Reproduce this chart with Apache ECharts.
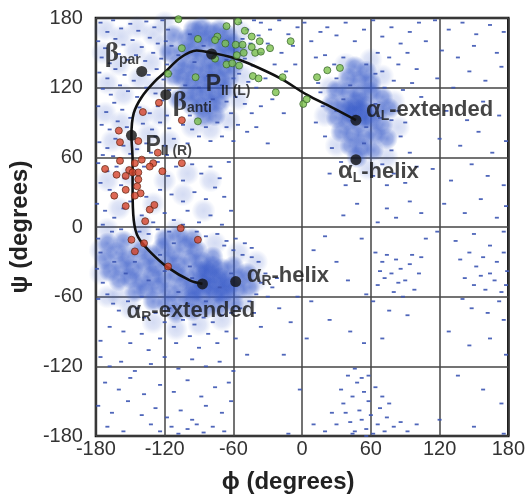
<!DOCTYPE html>
<html>
<head>
<meta charset="utf-8">
<script src="https://cdn.jsdelivr.net/npm/echarts@6/dist/echarts.min.js"></script>
<style>html,body{margin:0;padding:0;background:#fff}#c{width:528px;height:504px}</style>
</head>
<body>
<div id="c"></div>
<script>
// ---- tick labels ----
const xTicks = [-180, -120, -60, 0, 60, 120, 180];
const yTicks = [-180, -120, -60, 0, 60, 120, 180];

// ---- dense blue cores (phi, psi) ----
const coreBeta = [[-95,170],[-88,172],[-80,168],[-72,170],[-65,165],[-100,162],[-92,160],[-84,161],[-76,158],[-68,157],[-60,158],
[-104,152],[-96,150],[-88,148],[-80,144],[-72,147],[-64,149],[-56,152],[-108,140],[-100,138],[-92,137],[-84,134],[-76,136],[-68,138],[-60,139],
[-104,128],[-96,126],[-88,124],[-80,126],[-72,127],[-64,128],[-100,116],[-92,114],[-84,115],[-76,116],[-68,118],
[-96,105],[-88,103],[-80,106],[-72,107],[-112,165],[-116,150],[-112,130],[-108,110],[-86,95],[-76,96]];
const coreAlphaR = [[-172,-28],[-162,-22],[-152,-26],[-142,-20],[-132,-24],[-122,-18],[-112,-22],[-102,-16],[-92,-20],
[-168,-38],[-158,-34],[-148,-36],[-138,-32],[-128,-34],[-118,-30],[-108,-32],[-98,-28],[-88,-30],[-78,-26],
[-160,-46],[-150,-44],[-140,-46],[-130,-42],[-120,-44],[-110,-40],[-100,-42],[-90,-38],[-80,-40],[-70,-36],[-60,-34],
[-146,-56],[-136,-54],[-126,-52],[-116,-56],[-106,-50],[-96,-52],[-86,-50],[-76,-48],[-66,-46],[-56,-44],[-48,-40],
[-130,-64],[-118,-66],[-106,-62],[-96,-62],[-86,-60],[-76,-58],[-66,-56],[-56,-54],[-46,-52],
[-110,-74],[-96,-72],[-84,-70],[-72,-68],[-60,-66],[-120,-10],[-108,-8],[-96,-10],[-156,-12],[-170,-14],
[-88,-46],[-80,-52],[-72,-44],[-64,-50],[-84,-38],[-94,-56],[-70,-58],[-78,-34]];
const coreAlphaL = [[40,128],[50,126],[60,124],[30,118],[40,116],[50,114],[60,116],[70,112],[26,106],[36,104],[46,102],[56,104],[66,100],[76,102],
[30,94],[40,92],[50,90],[60,92],[70,88],[34,82],[44,80],[54,78],[64,80],[74,76],[42,70],[52,68],[62,66],[48,60],[56,134],[46,138],
[44,96],[52,100],[48,108],[56,94],[40,102]];

// ---- lighter halos around the cores (phi, psi) ----
const haloBeta = [[-172,170],[-158,164],[-144,172],[-130,166],[-120,176],[-174,150],[-160,140],[-146,152],[-132,142],[-120,156],[-170,124],
[-156,114],[-142,128],[-128,120],[-172,98],[-158,90],[-140,96],[-124,96],[-166,74],[-150,70],[-134,80],[-116,74],[-54,168],[-46,150],
[-52,130],[-56,110],[-96,86],[-80,84],[-64,92]];
const haloBridge = [[-170,40],[-150,44],[-120,40],[-100,46],[-80,40],[-160,16],[-130,20],[-104,28],[-86,14],[-170,-2],[-140,2],[-110,-2]];
const haloAlphaR = [[-176,-40],[-176,-20],[-170,-60],[-150,-70],[-130,-82],[-110,-88],[-90,-84],[-70,-80],[-50,-66],[-40,-46],[-40,-30],
[-56,-22],[-76,-14],[-140,-8],[-160,-60]];
const haloAlphaL = [[24,120],[20,96],[30,70],[70,130],[80,108],[84,86],[74,60],[58,50],[38,140],[60,144]];

// ---- sparse blue dots (phi, psi) ----
const sparseBeta = [[-176,176],[-170,168],[-165,178],[-158,171],[-150,175],[-143,169],[-136,177],[-129,172],[-122,178],[-117,170],
[-178,160],[-172,154],[-163,162],[-156,157],[-148,161],[-140,155],[-133,163],[-126,158],[-119,160],[-114,156],
[-175,146],[-168,141],[-160,149],[-152,144],[-145,148],[-137,143],[-130,150],[-123,145],[-118,140],
[-177,133],[-170,128],[-163,136],[-155,131],[-147,126],[-134,131],[-127,136],[-121,127],[-115,132],
[-174,119],[-167,114],[-159,122],[-152,117],[-144,112],[-136,120],[-128,115],[-122,109],[-116,118],
[-178,104],[-171,99],[-164,107],[-157,101],[-150,94],[-142,103],[-133,98],[-126,104],[-118,96],
[-175,88],[-168,84],[-161,91],[-153,86],[-139,89],[-131,84],[-124,90],[-116,85],
[-177,73],[-170,68],[-163,76],[-156,70],[-144,67],[-136,72],[-128,78],[-120,70],[-112,76],
[-174,62],[-165,61],[-150,63],[-132,64],[-118,62],
[-54,176],[-48,170],[-42,178],[-52,162],[-45,158],[-38,165],[-50,145],[-43,139],[-36,150],[-55,132],[-47,125],[-40,120],
[-58,112],[-50,106],[-44,98],[-62,98],[-56,88],[-66,86],[-48,82],[-104,88],[-96,84],[-84,86],[-74,90],[-90,78],[-80,74],[-100,72],[-70,78],[-60,74],
[-98,166],[-86,156],[-74,163],[-66,144],[-94,142],[-82,130],[-70,122],[-90,120],[-78,110],[-102,122],[-108,148],[-60,128],[-98,96],[-66,108]];
const sparseBridge = [[-178,55],[-170,48],[-162,52],[-155,42],[-138,52],[-126,56],[-117,44],[-110,52],[-104,40],[-96,54],[-88,46],[-80,52],[-72,42],[-64,56],
[-176,38],[-168,32],[-158,36],[-150,22],[-136,26],[-124,32],[-114,28],[-104,22],[-94,30],[-84,24],[-76,34],[-68,26],
[-179,20],[-172,14],[-164,8],[-156,16],[-140,10],[-130,4],[-120,12],[-112,6],[-100,14],[-90,4],[-80,10],[-70,2],[-62,14],
[-174,2],[-166,-4],[-158,-2],[-142,-4],[-134,-6],[-126,-2],[-116,-4],[-104,2],[-92,-4],[-84,-8],[-74,-6],[-66,-12],[-58,-10],[-50,-14],[-44,-18]];
const sparseAlphaR = [[-178,-10],[-176,-22],[-179,-36],[-174,-48],[-170,-58],[-165,-66],[-178,-62],[-160,-72],[-152,-64],[-144,-70],[-138,-78],[-128,-74],
[-120,-82],[-112,-86],[-104,-80],[-94,-84],[-86,-78],[-78,-82],[-70,-76],[-62,-74],[-54,-70],[-46,-64],[-40,-58],[-36,-48],[-32,-40],[-38,-30],
[-44,-26],[-52,-24],[-60,-20],[-68,-16],[-30,-60],[-26,-52],[-22,-44],[-42,-74],[-36,-86],[-168,-86],[-156,-90],[-140,-92],[-124,-96],[-110,-100],
[-98,-94],[-82,-92],[-66,-90],[-150,-100],[-134,-106],[-176,-98],[-90,-104],[-74,-100],[-58,-96],
[-146,-30],[-134,-46],[-120,-38],[-108,-56],[-96,-44],[-84,-64],[-72,-52],[-62,-40],[-124,-24],[-112,-14],[-98,-34],[-154,-40],[-164,-30],[-140,-60],[-116,-70],[-100,-66]];
const sparseLower = [[-176,-112],[-168,-120],[-158,-116],[-146,-124],[-132,-118],[-120,-112],[-108,-122],[-96,-114],[-84,-120],[-72,-116],[-60,-124],[-48,-110],
[-172,-134],[-160,-140],[-150,-130],[-138,-144],[-124,-136],[-112,-142],[-100,-132],[-88,-146],[-76,-138],[-64,-134],
[-178,-154],[-166,-160],[-152,-150],[-140,-162],[-128,-156],[-118,-164],[-106,-158],[-96,-166],[-84,-154],[-70,-160],[-62,-150],
[-170,-172],[-156,-176],[-132,-170],[-124,-176],[-114,-172],[-108,-178],[-100,-174],[-92,-170],[-86,-177],[-78,-172],[-68,-176]];
const sparseMid = [[-36,176],[-28,170],[-20,178],[-12,166],[-4,172],[-30,158],[-18,150],[-8,156],[-24,140],[-14,134],[-32,128],[-6,140],
[-26,110],[-36,104],[-16,98],[-40,86],[-30,72],[2,176],[8,160],[12,146],[16,168]];
const sparseAlphaL = [[22,172],[30,165],[38,176],[46,160],[54,170],[62,178],[70,164],[78,172],[86,158],[94,168],[102,176],[108,160],
[66,150],[76,146],[84,140],[92,150],[100,136],[70,134],[80,126],[88,118],[96,124],[104,112],[20,148],[28,140],[36,146],[14,124],[18,104],[12,90],
[20,78],[26,68],[84,100],[90,90],[86,78],[78,66],[94,64],[100,52],[70,54],[80,46],[62,44],[74,36],[90,38],[34,56],[24,46],[38,36],[56,140],[64,132],
[72,120],[78,92],[30,128],[16,116],[36,110],[46,96],[56,86],[64,106],[42,122],[54,72],[30,100],[68,94]];
const sparseRight = [[116,178],[128,170],[140,176],[152,166],[164,174],[176,168],[122,152],[136,146],[150,156],[170,150],[118,128],[132,120],[146,134],
[160,126],[174,138],[126,100],[144,92],[158,108],[172,96],[120,76],[138,70],[154,82],[166,64],[178,74],[114,50],[130,40],[148,54],[162,44],[176,36],
[124,20],[142,12],[156,24],[170,8],[178,18],[118,-4],[134,-12],[150,-6],[164,-16],[176,-4],
[138,-28],[146,-22],[152,-34],[158,-26],[164,-40],[170,-30],[176,-22],[179,-38],[142,-44],[150,-50],[160,-54],[168,-46],[174,-56],[178,-50],
[156,-42],[172,-64],[148,-70],[162,-74],[176,-80],[140,-62],[128,-90],[146,-102],[164,-96],[178,-110],[136,-128],[158,-140],[174,-152],[120,-166],[150,-172],[176,-178]];
const sparseRightMid = [[64,-22],[70,-30],[74,-24],[78,-40],[82,-28],[86,-36],[90,-46],[94,-32],[98,-54],[102,-40],[66,-50],[72,-44],[80,-56],[88,-60],
[96,-24],[104,-26],[68,-38],[84,-48],[62,-64],[76,-72],[92,-76],[70,-96],[104,12],[94,22],[82,8],[108,-10],[66,4],[74,16],
[10,-20],[20,-8],[30,-30],[40,-46],[52,-10],[36,10],[48,20],[56,-58],[24,-80],[42,-90],[54,-100]];
const sparseBottom = [[20,-176],[26,-160],[30,-170],[34,-140],[36,-152],[40,-128],[42,-168],[44,-146],[46,-176],[48,-134],[50,-158],[52,-166],
[54,-142],[56,-174],[58,-150],[60,-162],[62,-178],[64,-138],[66,-170],[68,-156],[70,-146],[72,-176],[74,-164],[76,-152],[80,-172],[86,-168],
[92,-176],[100,-170],[38,-160],[46,-122],[52,-130],[58,-128],[44,-178],[56,-180],
[-20,-70],[-10,-82],[-4,-60],[4,-96],[-16,-110],[-2,-140],[10,-170],[-12,-178],[8,-64]];

// ---- peptide points ----
const redPoints = [[-125,107],[-139,99],[-105,92],[-160,83],[-159,73],[-143,74],[-126,64],[-159,57],[-146,55],[-140,58],[-130,55],[-133,52],
[-172,50],[-151,49],[-148,47],[-143,47],[-122,48],[-105,55],[-162,45],[-154,44],[-143,41],[-144,35],[-154,32],[-141,29],[-146,27],[-164,27],
[-154,18],[-133,15],[-129,19],[-137,5],[-106,-1],[-91,-11],[-149,-11],[-138,-14],[-146,-21],[-117,-34]];
const greenPoints = [[-108,179],[-56,177],[-66,173],[-50,169],[-91,162],[-74,164],[-44,164],[-37,160],[-10,160],[-67,158],[-58,157],[-52,157],
[-105,154],[-28,154],[-41,150],[-36,151],[-57,148],[-51,150],[-76,145],[-66,140],[-61,141],[-55,139],[-117,132],[-93,129],[-43,130],[-38,128],
[-17,129],[13,129],[22,135],[33,137],[-23,116],[1,106],[4,110],[-91,91],[-44,155],[-76,161]];

// ---- reference conformations ----
const refNames = ['βpar','βanti','PII(L)','PII(R)','αL-extended','αL-helix','αR-helix','αR-extended'];
const refPoints = [[-140,134],[-119,114],[-79,149],[-149,79],[47,92],[47,58],[-58,-47],[-87,-49]];

// ---- trajectory curve ----
const curve = [[-87,-49],[-98,-46],[-117,-35],[-132,-22],[-143,-9],[-147,6],[-148,32],[-148,58],[-149,79],[-147,98],[-140,112],[-129,125],
[-120,133],[-106,146],[-92,152],[-79,150],[-61,146],[-47,141],[-19,128],[4,114],[26,103],[47,92]];

// ---- label styling (positions kept here, not in data) ----
const ink = '#161616';
const richStyles = {
  be: {fontFamily:'Liberation Serif', fontSize:27, fontWeight:'bold', color:ink},
  al: {fontFamily:'Liberation Sans', fontSize:24, fontWeight:'bold', color:ink},
  P: {fontFamily:'Liberation Sans', fontSize:23, fontWeight:'bold', color:ink},
  s: {fontFamily:'Liberation Sans', fontSize:14, fontWeight:'bold', color:ink, padding:[12,0,0,0]},
  b: {fontFamily:'Liberation Sans', fontSize:22, fontWeight:'bold', color:ink}
};
const labelCfg = {
  'βpar': {text:'{be|β}{s|par}', off:[-37,-17]},
  'βanti': {text:'{be|β}{s|anti}', off:[7,8]},
  'PII(L)': {text:'{P|P}{s|II (L)}', off:[-6,31]},
  'PII(R)': {text:'{P|P}{s|II (R)}', off:[14,10]},
  'αL-extended': {text:'{al|α}{s|L}{b|-extended}', off:[10,-10]},
  'αL-helix': {text:'{al|α}{s|L}{b|-helix}', off:[-18,12]},
  'αR-helix': {text:'{al|α}{s|R}{b|-helix}', off:[11,-6]},
  'αR-extended': {text:'{al|α}{s|R}{b|-extended}', off:[-76,27]}
};

function blob(alpha){
  return new echarts.graphic.RadialGradient(0.5, 0.5, 0.5, [
    {offset:0, color:'rgba(55,90,200,' + alpha + ')'},
    {offset:0.55, color:'rgba(55,90,200,' + (alpha*0.72) + ')'},
    {offset:1, color:'rgba(55,90,200,0)'}]);
}
function sparse(d){ return {type:'scatter', data:d, silent:true, z:2, symbol:'rect', symbolSize:[4,1.8], itemStyle:{color:'#3c55b2', opacity:0.9}}; }
function core(d){ return {type:'scatter', data:d, silent:true, z:1, symbolSize:22, itemStyle:{color:blob(0.8)}}; }
function halo(d){ return {type:'scatter', data:d, silent:true, z:1, symbolSize:24, itemStyle:{color:blob(0.27)}}; }

const chart = echarts.init(document.getElementById('c'), null, {renderer:'canvas'});
chart.setOption({
  animation:false,
  grid:{left:93, right:11, top:18, bottom:68, show:true, borderColor:'#111', borderWidth:2.5, backgroundColor:'#fff'},
  xAxis:{type:'value', min:-180, max:180, interval:60,
    name:'ϕ (degrees)', nameLocation:'middle', nameGap:34,
    nameTextStyle:{fontFamily:'Liberation Sans', fontSize:24, fontWeight:'bold', color:'#222', padding:[0,28,0,0]},
    axisLine:{show:false}, axisTick:{show:false},
    splitLine:{show:true, lineStyle:{color:'#444', width:1.5}},
    axisLabel:{fontFamily:'Liberation Sans', fontSize:20, color:'#333', margin:3,
      formatter:v => xTicks.includes(v) ? String(v) : ''}},
  yAxis:{type:'value', min:-180, max:180, interval:60,
    name:'ψ (degrees)', nameLocation:'middle', nameGap:62, nameRotate:90,
    nameTextStyle:{fontFamily:'Liberation Sans', fontSize:24, fontWeight:'bold', color:'#222', padding:[32,0,0,0]},
    axisLine:{show:false}, axisTick:{show:false},
    splitLine:{show:true, lineStyle:{color:'#444', width:1.5}},
    axisLabel:{fontFamily:'Liberation Sans', fontSize:20, color:'#333', margin:13, padding:[12,0,0,0],
      formatter:v => yTicks.includes(v) ? String(v) : ''}},
  series:[
    halo(haloBeta), halo(haloBridge), halo(haloAlphaR), halo(haloAlphaL),
    core(coreBeta), core(coreAlphaR), core(coreAlphaL),
    sparse(sparseBeta), sparse(sparseBridge), sparse(sparseAlphaR), sparse(sparseLower), sparse(sparseMid),
    sparse(sparseAlphaL), sparse(sparseRight), sparse(sparseRightMid), sparse(sparseBottom),
    {type:'line', data:curve, smooth:0.35, symbol:'none', z:3, lineStyle:{color:'#111', width:2.6}},
    {type:'scatter', data:redPoints, symbolSize:7, z:4, itemStyle:{color:'#d6442a', borderColor:'#5e2412', borderWidth:0.9}},
    {type:'scatter', data:greenPoints, symbolSize:7, z:4, itemStyle:{color:'#7dc24c', borderColor:'#33602a', borderWidth:0.9}},
    {type:'scatter', z:5, symbolSize:11, itemStyle:{color:'#111'},
      data: refPoints.map((p,i) => {
        const c = labelCfg[refNames[i]];
        return {name:refNames[i], value:p,
          label:{show:true, position:'inside', align:'left', offset:c.off, formatter:c.text, rich:richStyles}};
      })}
  ]
});
</script>
</body>
</html>
